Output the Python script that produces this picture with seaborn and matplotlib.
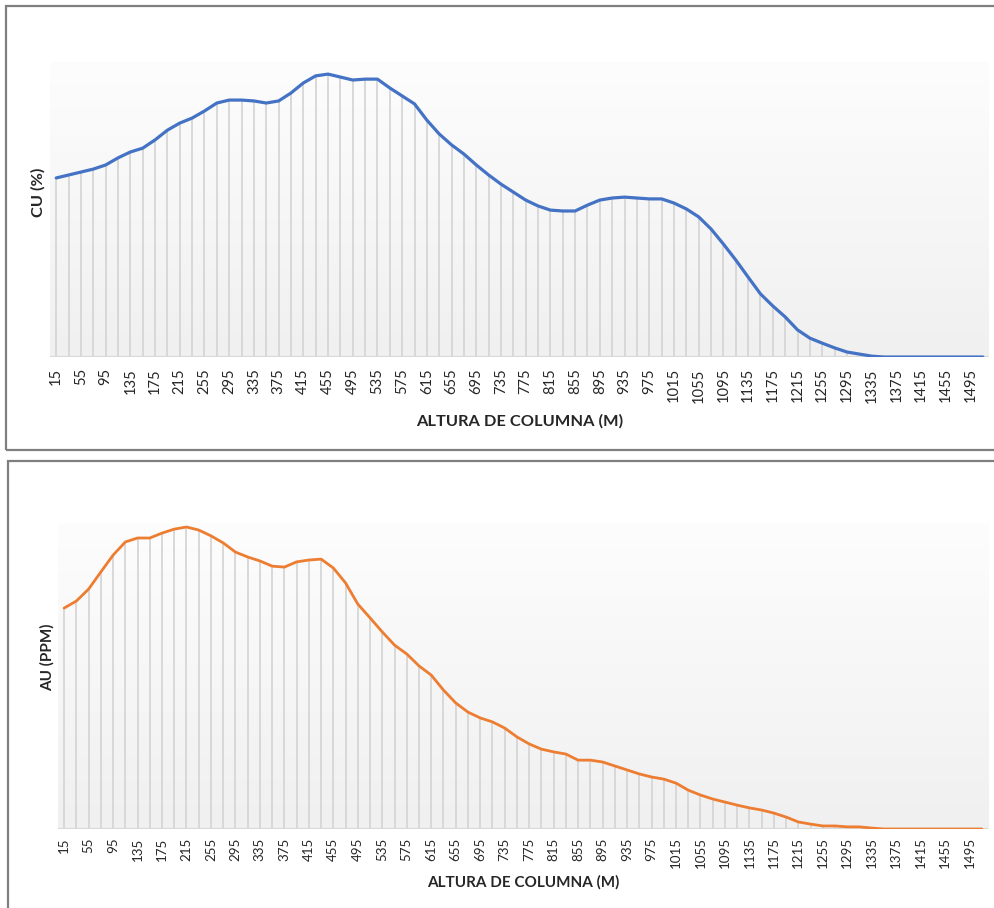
import numpy as np
import matplotlib.pyplot as plt
import seaborn as sns
from matplotlib.patches import Rectangle

# altura de columna (m), un punto cada 20 m
altura = list(range(15, 1516, 20))
etiquetas = [str(a) for a in altura[::2]]

# CU (%) (escala relativa)
cu = [0.607, 0.617, 0.627, 0.637, 0.651, 0.675, 0.695, 0.708, 0.736, 0.769,
      0.793, 0.810, 0.834, 0.861, 0.871, 0.871, 0.868, 0.861, 0.868, 0.895,
      0.929, 0.953, 0.959, 0.949, 0.939, 0.942, 0.942, 0.912, 0.885, 0.858,
      0.803, 0.756, 0.719, 0.688, 0.651, 0.617, 0.586, 0.559, 0.532, 0.512,
      0.498, 0.495, 0.495, 0.515, 0.532, 0.539, 0.542, 0.539, 0.536, 0.536,
      0.522, 0.502, 0.475, 0.434, 0.383, 0.329, 0.271, 0.214, 0.173, 0.136,
      0.092, 0.064, 0.047, 0.031, 0.017, 0.010, 0.003, 0.0, 0.0, 0.0,
      0.0, 0.0, 0.0, 0.0, 0.0, 0.0]

# AU (ppm) (escala relativa)
au = [0.722, 0.745, 0.784, 0.840, 0.895, 0.938, 0.951, 0.951, 0.967, 0.980,
      0.987, 0.977, 0.958, 0.935, 0.905, 0.889, 0.876, 0.859, 0.856, 0.873,
      0.879, 0.882, 0.853, 0.804, 0.735, 0.690, 0.644, 0.601, 0.572, 0.533,
      0.503, 0.454, 0.412, 0.382, 0.363, 0.350, 0.330, 0.301, 0.278, 0.261,
      0.252, 0.245, 0.225, 0.225, 0.219, 0.206, 0.193, 0.180, 0.170, 0.163,
      0.150, 0.127, 0.111, 0.098, 0.088, 0.078, 0.069, 0.062, 0.052, 0.039,
      0.023, 0.016, 0.010, 0.010, 0.007, 0.007, 0.003, 0.0, 0.0, 0.0,
      0.0, 0.0, 0.0, 0.0, 0.0, 0.0]

sns.set_theme(style="white")
plt.rcParams['font.family'] = ['Lato', 'DejaVu Sans']


def draw_panel(ax, values, color, ylabel, lw, tick_fs, label_fs, xlab_y, ylab_xy, pad):
    # fondo degradado (gris claro abajo, blanco arriba)
    grad = np.linspace(253, 240, 256)[:, None, None] * np.ones((1, 1, 3)) / 255.0
    ax.imshow(grad, extent=[0, 1, 0, 1], transform=ax.transAxes,
              aspect='auto', zorder=0)
    # lineas de caida
    ax.vlines(altura, 0, values, color='#d6d6d6', lw=1.3, zorder=1)
    ax.axhline(0, color='#d9d9d9', lw=1.6, zorder=1)
    sns.lineplot(x=altura, y=values, ax=ax, color=color, lw=lw, zorder=3)

    ax.set_xlim(5, 1525)
    ax.set_ylim(0, 1.0)
    ax.set_yticks([])
    ax.set_xticks(altura[::2])
    ax.set_xticklabels(etiquetas, rotation=90, fontsize=tick_fs, color='#262626')
    ax.tick_params(axis='x', length=0, pad=pad)
    for s in ax.spines.values():
        s.set_visible(False)

    ax.set_xlabel('ALTURA DE COLUMNA (M)', fontsize=label_fs, fontweight='bold',
                  color='#262626', va='center')
    ax.xaxis.set_label_coords(0.5, xlab_y)
    ax.set_ylabel(ylabel, fontsize=label_fs, fontweight='bold', color='#262626',
                  va='center', ha='center')
    ax.yaxis.set_label_coords(*ylab_xy)


fig = plt.figure(figsize=(9.95, 9.08), dpi=100)

ax1 = fig.add_axes([0.0503, 0.6068, 0.9437, 0.3249])
draw_panel(ax1, cu, '#4472C4', 'CU (%)', 2.3, 10.6, 11.8,
           -0.217, (-0.0128, 0.559), 8)

ax2 = fig.add_axes([0.0583, 0.0870, 0.9347, 0.3370])
draw_panel(ax2, au, '#ED7D31', 'AU (PPM)', 2.0, 9.6, 11.0,
           -0.173, (-0.0118, 0.562), 6)

# marcos de cada grafico
fig.patches.append(Rectangle((6 / 995, 1 - 450 / 908), 1.0, 444 / 908,
                             transform=fig.transFigure, fill=False,
                             ec='#7f7f7f', lw=1.6))
fig.patches.append(Rectangle((8 / 995, -0.1), 1.0, 0.1 + 1 - 461 / 908,
                             transform=fig.transFigure, fill=False,
                             ec='#7f7f7f', lw=1.6))

fig.savefig('out.png', dpi=100)
plt.close(fig)
